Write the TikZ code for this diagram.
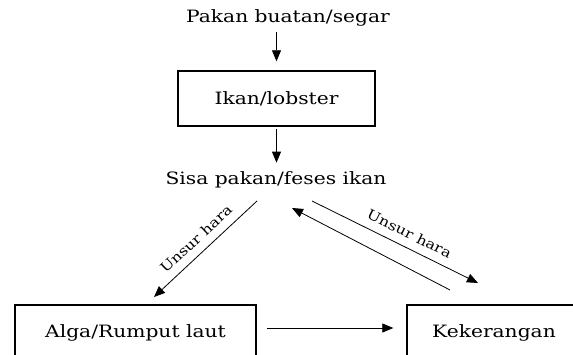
\documentclass[tikz,border=0pt]{standalone}
\usepackage{fontspec}
\setmainfont{DejaVu Serif}[FakeStretch=1.19]
\usetikzlibrary{positioning, arrows.meta}

\begin{document}
\begin{tikzpicture}[x=1pt, y=1pt,
    box/.style={rectangle, draw, line width=1.4pt, minimum height=55pt, font=\fontsize{17}{20}\selectfont},
    txt/.style={font=\fontsize{17}{20}\selectfont},
    arr/.style={line width=0.8pt, -{Triangle[length=11pt, width=9pt]}},
    lbl/.style={font=\fontsize{13.5}{15}\selectfont, sloped, above=5pt}]
    \useasboundingbox (0,0) rectangle (573,354);
    \clip (0,0) rectangle (573,354);
    \node[txt] (pakan) at (288,336) {Pakan buatan/segar};
    \node[box, minimum width=197pt] (ikan) at (276.5,255.5) {Ikan/lobster};
    \node[txt] (sisa) at (276,174) {Sisa pakan/feses ikan};
    \node[box, minimum width=241pt] (alga) at (135.5,21.5) {Alga/Rumput laut};
    \node[box, minimum width=174pt] (kerang) at (494,21.5) {Kekerangan};
    \draw[arr] ([yshift=-14pt]pakan.center -| ikan.north) -- ([yshift=9pt]ikan.north);
    \draw[arr] ([yshift=-2pt]ikan.south) -- ([yshift=-36pt]ikan.south);
    \draw[arr] ([shift={(-19,-21)}]sisa.center) -- node[lbl] {Unsur hara} ([shift={(18.5,35.5)}]alga.center);
    \draw[arr] ([shift={(36,-21)}]sisa.center) -- node[lbl, pos=0.55] {Unsur hara} ([shift={(-16,49.5)}]kerang.center);
    \draw[arr] ([shift={(-44,42.5)}]kerang.center) -- ([shift={(16,-28)}]sisa.center);
    \draw[arr] ([shift={(10,4.5)}]alga.east) -- ([shift={(-13,4.5)}]kerang.west);
\end{tikzpicture}
\end{document}
